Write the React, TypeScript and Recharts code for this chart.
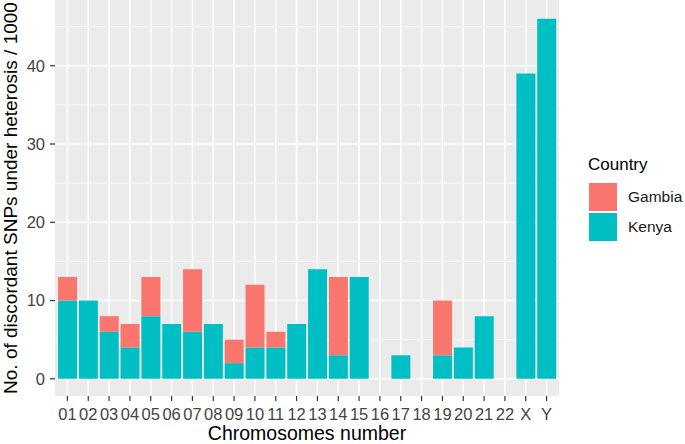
import React from 'react';
import { BarChart, Bar, XAxis, YAxis, CartesianGrid, Legend } from 'recharts';

const categories = ['01', '02', '03', '04', '05', '06', '07', '08', '09', '10', '11', '12', '13', '14', '15', '16', '17', '18', '19', '20', '21', '22', 'X', 'Y'];
const kenya = [10, 10, 6, 4, 8, 7, 6, 7, 2, 4, 4, 7, 14, 3, 13, 0, 3, 0, 3, 4, 8, 0, 39, 46];
const gambia = [3, 0, 2, 3, 5, 0, 8, 0, 3, 8, 2, 0, 0, 10, 0, 0, 0, 0, 7, 0, 0, 0, 0, 0];
const yTicks = [0, 10, 20, 30, 40];
const yMinorTicks = [5, 15, 25, 35, 45];
const yDomain: [number, number] = [-2.2, 48.4];
const seriesNames = ['Gambia', 'Kenya'];
const seriesColors = ['#F8766D', '#00BFC4'];

const data = categories.map((c, i) => ({ chrom: c, Kenya: kenya[i], Gambia: gambia[i] }));

const FONT = '"Liberation Sans", Arial, Helvetica, sans-serif';
const X_PAD = 2;

function yPix(v: number, offset: any) {
  return offset.top + (offset.height * (yDomain[1] - v)) / (yDomain[1] - yDomain[0]);
}

function xCenters(offset: any) {
  const band = (offset.width - 2 * X_PAD) / categories.length;
  return categories.map((_, i) => offset.left + X_PAD + band * (i + 0.5));
}

const LegendContent = () => (
  <div style={{ fontFamily: FONT, position: 'relative', width: 97, height: 90 }}>
    <div style={{ position: 'absolute', left: 0, top: 0, fontSize: 17, color: '#000', lineHeight: '20px', whiteSpace: 'nowrap' }}>
      Country
    </div>
    {seriesNames.map((n, i) => (
      <React.Fragment key={n}>
        <div
          style={{
            position: 'absolute',
            left: 1,
            top: 28 + i * 30,
            width: 28,
            height: 28,
            background: seriesColors[i],
          }}
        />
        <div
          style={{
            position: 'absolute',
            left: 40,
            top: 28 + i * 30,
            lineHeight: '28px',
            fontSize: 15.5,
            color: '#1a1a1a',
            whiteSpace: 'nowrap',
          }}
        >
          {n}
        </div>
      </React.Fragment>
    ))}
  </div>
);

export default function App() {
  return (
    <div style={{ position: 'absolute', left: 0, top: 0, width: 685, height: 444, background: '#fff' }}>
      <BarChart
        width={685}
        height={444}
        data={data}
        margin={{ top: 0, right: 126, left: 0, bottom: 0 }}
        barCategoryGap="5%"
        style={{ fontFamily: FONT }}
      >
        <CartesianGrid
          fill="#EBEBEB"
          stroke="#FFFFFF"
          strokeWidth={0.8}
          vertical={false}
          horizontalCoordinatesGenerator={({ offset }: any) => yMinorTicks.map((v) => yPix(v, offset))}
        />
        <CartesianGrid
          stroke="#FFFFFF"
          strokeWidth={1.6}
          horizontalCoordinatesGenerator={({ offset }: any) => yTicks.map((v) => yPix(v, offset))}
          verticalCoordinatesGenerator={({ offset }: any) => xCenters(offset)}
        />
        <XAxis
          dataKey="chrom"
          interval={0}
          padding={{ left: X_PAD, right: X_PAD }}
          height={48}
          tickSize={5}
          tickMargin={7}
          axisLine={false}
          tickLine={{ stroke: '#333333', strokeWidth: 1.2 }}
          tick={{ fill: '#444444', fontSize: 16.5, fontFamily: FONT }}
          label={{
            value: 'Chromosomes number',
            position: 'insideBottom',
            offset: 4,
            fill: '#000',
            fontSize: 19.5,
            fontFamily: FONT,
          }}
        />
        <YAxis
          type="number"
          domain={yDomain}
          allowDataOverflow
          ticks={yTicks}
          width={55}
          tickSize={5}
          tickMargin={5}
          axisLine={false}
          tickLine={{ stroke: '#333333', strokeWidth: 1.2 }}
          tick={{ fill: '#444444', fontSize: 16.5, fontFamily: FONT }}
          label={{
            value: 'No. of discordant SNPs under heterosis / 1000',
            angle: -90,
            position: 'insideLeft',
            offset: 10,
            fill: '#000',
            fontSize: 19,
            fontFamily: FONT,
            style: { textAnchor: 'middle' },
          }}
        />
        <Legend
          layout="horizontal"
          verticalAlign="middle"
          align="center"
          content={<LegendContent />}
          wrapperStyle={{ position: 'absolute', left: 588, top: 155, width: 97, height: 90 }}
        />
        <Bar dataKey="Kenya" stackId="a" fill={seriesColors[1]} isAnimationActive={false} />
        <Bar dataKey="Gambia" stackId="a" fill={seriesColors[0]} isAnimationActive={false} />
      </BarChart>
    </div>
  );
}
